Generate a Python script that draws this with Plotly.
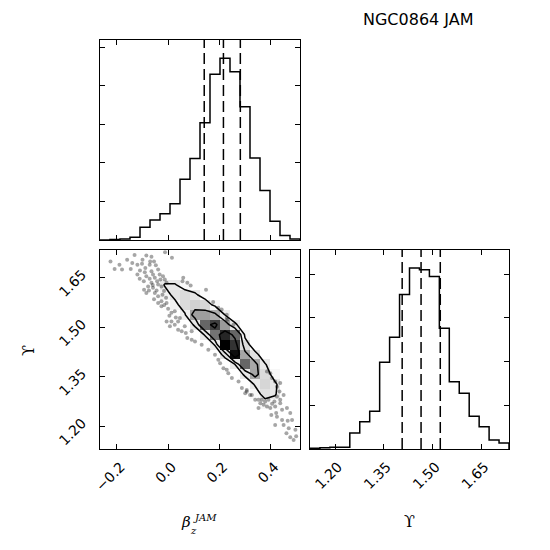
import numpy as np
import plotly.graph_objects as go

# ---------------- data ----------------
beta_range = [-0.266, 0.515]
ups_range_2d = [1.131, 1.7345]
ups_range_hist = [1.123, 1.734]

beta_counts = [0, 3, 5, 14, 66, 104, 136, 188, 315, 423, 609, 861, 944, 873, 692, 426, 257, 97, 23, 5]
ups_counts = [3, 6, 8, 8, 73, 125, 173, 397, 511, 707, 828, 820, 789, 553, 308, 255, 150, 102, 41, 27]

beta_quantiles = [0.141, 0.216, 0.282]
ups_quantiles = [1.406, 1.464, 1.523]

beta_ticks = [-0.2, 0.0, 0.2, 0.4]
ups_ticks = [1.20, 1.35, 1.50, 1.65]

# 2D histogram (rows listed from top = high Upsilon to bottom), values in % of max
hist2d_rows = [
    [0]*20,
    [0]*20,
    [0]*20,
    [0, 0, 0, 0, 0, 0, 9, 9, 2, 0, 0, 0, 0, 0, 0, 0, 0, 0, 0, 0],
    [0, 0, 0, 0, 0, 0, 4, 11, 14, 10, 2, 0, 0, 0, 0, 0, 0, 0, 0, 0],
    [0, 0, 0, 0, 0, 0, 0, 5, 14, 18, 16, 4, 0, 0, 0, 0, 0, 0, 0, 0],
    [0, 0, 0, 0, 0, 0, 0, 0, 7, 38, 38, 32, 7, 0, 0, 0, 0, 0, 0, 0],
    [0, 0, 0, 0, 0, 0, 0, 0, 0, 10, 60, 75, 40, 10, 0, 0, 0, 0, 0, 0],
    [0, 0, 0, 0, 0, 0, 0, 0, 0, 0, 9, 55, 85, 60, 5, 0, 0, 0, 0, 0],
    [0, 0, 0, 0, 0, 0, 0, 0, 0, 0, 0, 9, 100, 80, 14, 0, 0, 0, 0, 0],
    [0, 0, 0, 0, 0, 0, 0, 0, 0, 0, 0, 0, 12, 95, 35, 12, 0, 0, 0, 0],
    [0, 0, 0, 0, 0, 0, 0, 0, 0, 0, 0, 0, 0, 8, 60, 34, 9, 0, 0, 0],
    [0, 0, 0, 0, 0, 0, 0, 0, 0, 0, 0, 0, 0, 0, 10, 35, 14, 3, 0, 0],
    [0, 0, 0, 0, 0, 0, 0, 0, 0, 0, 0, 0, 0, 0, 0, 9, 16, 10, 0, 0],
    [0, 0, 0, 0, 0, 0, 0, 0, 0, 0, 0, 0, 0, 0, 0, 3, 12, 9, 0, 0],
    [0, 0, 0, 0, 0, 0, 0, 0, 0, 0, 0, 0, 0, 0, 0, 0, 3, 2, 0, 0],
    [0]*20,
    [0]*20,
    [0]*20,
    [0]*20,
]
contour_levels = [8, 28, 68]

scatter_beta = [
    -0.131, -0.085, -0.065, -0.055, -0.102, -0.072, -0.089, -0.146, -0.180, -0.209,
    -0.091, -0.065, -0.039, -0.059, -0.085, -0.072, -0.052, -0.033, -0.020, -0.013,
    -0.043, -0.065, -0.078, -0.094, -0.075, -0.059, -0.039, -0.026, -0.006, 0.059,
    0.075, 0.088, 0.056, -0.085, -0.052, -0.039, -0.022, -0.026, -0.006, -0.026,
    -0.039, 0.000, 0.013, 0.026, 0.013, -0.006, 0.007, 0.026, 0.039, 0.053,
    0.069, 0.075, 0.092, 0.046, -0.111, -0.225, -0.190, -0.160, -0.120, -0.100,
    -0.012, 0.015, 0.148, 0.176, 0.196, 0.209, 0.229, 0.231, 0.039, 0.065,
    0.092, 0.105, 0.131, 0.157, 0.183, 0.196, 0.216, 0.235, 0.249, 0.275,
    0.288, 0.307, 0.327, 0.353, 0.229, 0.255, 0.203, 0.229, 0.386, 0.399,
    0.405, 0.418, 0.425, 0.438, 0.435, 0.425, 0.438, 0.415, 0.406, 0.418,
    0.399, 0.386, 0.373, 0.360, 0.353, 0.379, 0.445, 0.464, 0.477, 0.484,
    0.467, 0.425, 0.445, 0.418, 0.471, 0.462, 0.497, 0.477, 0.307, 0.320,
    0.301, 0.340, 0.366, 0.438, 0.451, 0.392, 0.422, 0.403, 0.451, 0.490,
    0.500, -0.070, -0.048, -0.110, -0.030, -0.060, -0.016, -0.045, -0.095, -0.120,
    -0.008, -0.015, 0.005, -0.140, -0.055, 0.030,
]
scatter_ups = [
    1.719, 1.718, 1.714, 1.700, 1.693, 1.690, 1.680, 1.677, 1.675, 1.677,
    1.667, 1.670, 1.675, 1.660, 1.655, 1.647, 1.650, 1.660, 1.655, 1.645,
    1.640, 1.635, 1.624, 1.614, 1.612, 1.620, 1.630, 1.624, 1.635, 1.650,
    1.635, 1.627, 1.640, 1.604, 1.604, 1.594, 1.599, 1.579, 1.574, 1.564,
    1.574, 1.556, 1.544, 1.549, 1.518, 1.518, 1.503, 1.508, 1.493, 1.488,
    1.483, 1.468, 1.462, 1.528, 1.647, 1.700, 1.690, 1.705, 1.690, 1.705,
    1.728, 1.711, 1.614, 1.577, 1.559, 1.554, 1.538, 1.523, 1.518, 1.503,
    1.488, 1.457, 1.447, 1.432, 1.417, 1.402, 1.376, 1.361, 1.346, 1.336,
    1.316, 1.305, 1.295, 1.280, 1.528, 1.508, 1.391, 1.371, 1.366, 1.361,
    1.346, 1.336, 1.320, 1.331, 1.305, 1.290, 1.280, 1.275, 1.268, 1.260,
    1.255, 1.260, 1.265, 1.270, 1.255, 1.275, 1.250, 1.255, 1.240, 1.219,
    1.217, 1.229, 1.219, 1.204, 1.194, 1.179, 1.189, 1.167, 1.310, 1.295,
    1.300, 1.280, 1.280, 1.270, 1.295, 1.280, 1.240, 1.234, 1.204, 1.158,
    1.170, 1.700, 1.688, 1.672, 1.645, 1.628, 1.610, 1.612, 1.640, 1.660,
    1.590, 1.568, 1.535, 1.695, 1.585, 1.530,
]

title_text = "NGC0864 JAM"

# ---------------- helpers ----------------
W = H = 550
OFF = 8  # page body margin of the html wrapper


def px_x(p):
    return (p - OFF) / W


def px_y(p):
    return 1 - (p - OFF) / H


def step_xy(edges, counts):
    xs = [edges[0]] + list(edges[:-1]) + [edges[-1], edges[-1]]
    ys = [0] + list(counts) + [counts[-1], 0]
    return xs, ys


fig = go.Figure()

# top histogram (beta)
be = np.linspace(beta_range[0], beta_range[1], len(beta_counts) + 1)
xs, ys = step_xy(be, beta_counts)
fig.add_trace(go.Scatter(x=xs, y=ys, mode="lines", line=dict(color="black", width=1.5, shape="hv"),
                         xaxis="x", yaxis="y", showlegend=False, hoverinfo="skip"))

# right histogram (Upsilon)
ue = np.linspace(ups_range_hist[0], ups_range_hist[1], len(ups_counts) + 1)
xs, ys = step_xy(ue, ups_counts)
fig.add_trace(go.Scatter(x=xs, y=ys, mode="lines", line=dict(color="black", width=1.5, shape="hv"),
                         xaxis="x3", yaxis="y3", showlegend=False, hoverinfo="skip"))

# 2D panel
nx = len(hist2d_rows[0])
ny = len(hist2d_rows)
xe2 = np.linspace(beta_range[0], beta_range[1], nx + 1)
ye2 = np.linspace(ups_range_2d[0], ups_range_2d[1], ny + 1)
xc = 0.5 * (xe2[:-1] + xe2[1:])
yc = 0.5 * (ye2[:-1] + ye2[1:])
Z = np.array(hist2d_rows[::-1], dtype=float)
Zh = np.where(Z > 0, Z, np.nan)

fig.add_trace(go.Heatmap(x=xc, y=yc, z=Zh, colorscale=[[0, "white"], [1, "black"]],
                         zmin=0, zmax=100, showscale=False, xaxis="x2", yaxis="y2",
                         hoverinfo="skip"))
fig.add_trace(go.Scatter(x=scatter_beta, y=scatter_ups, mode="markers",
                         marker=dict(color="rgba(0,0,0,0.35)", size=4, line=dict(width=0)),
                         xaxis="x2", yaxis="y2", showlegend=False, hoverinfo="skip"))
for lv in contour_levels:
    fig.add_trace(go.Contour(x=xc, y=yc, z=Z, showscale=False,
                             contours=dict(start=lv, end=lv, size=1, coloring="none"),
                             line=dict(color="black", width=1.5, smoothing=0),
                             xaxis="x2", yaxis="y2", hoverinfo="skip"))

# quantile lines
shapes = []
for q in beta_quantiles:
    shapes.append(dict(type="line", xref="x", yref="y domain", x0=q, x1=q, y0=0, y1=1,
                       line=dict(color="black", width=1.5, dash="11px,5px")))
for q in ups_quantiles:
    shapes.append(dict(type="line", xref="x3", yref="y3 domain", x0=q, x1=q, y0=0, y1=1,
                       line=dict(color="black", width=1.5, dash="11px,5px")))

tickfont = dict(family="DejaVu Sans", size=14, color="black")
common = dict(showline=True, linecolor="black", linewidth=1.3, mirror="allticks",
              ticks="inside", ticklen=5, tickwidth=1, tickcolor="black",
              showgrid=False, zeroline=False, tickfont=tickfont, automargin=False)

dom_x_left = [px_x(100), px_x(300)]
dom_x_right = [px_x(310), px_x(509)]
dom_y_top = [px_y(240), px_y(40)]
dom_y_bot = [px_y(449), px_y(250)]

fig.update_layout(
    width=W, height=H, margin=dict(l=0, r=0, t=0, b=0, autoexpand=False),
    paper_bgcolor="white", plot_bgcolor="white", showlegend=False,
    shapes=shapes,
    xaxis=dict(domain=dom_x_left, anchor="y", range=beta_range, tickvals=beta_ticks,
               showticklabels=False, **common),
    yaxis=dict(domain=dom_y_top, anchor="x", range=[0, 1.1 * max(beta_counts)], dtick=200,
               showticklabels=False, **common),
    xaxis2=dict(domain=dom_x_left, anchor="y2", range=beta_range, tickvals=beta_ticks,
                tickformat=".1f", tickangle=-45, ticklabelshift=4, ticklabelstandoff=3, **common),
    yaxis2=dict(domain=dom_y_bot, anchor="x2", range=ups_range_2d, tickvals=ups_ticks,
                tickformat=".2f", tickangle=-45, ticklabelshift=-5, ticklabelstandoff=14, **common),
    xaxis3=dict(domain=dom_x_right, anchor="y3", range=ups_range_hist, tickvals=ups_ticks,
                tickformat=".2f", tickangle=-45, ticklabelshift=3, ticklabelstandoff=3, **common),
    yaxis3=dict(domain=dom_y_bot, anchor="x3", range=[0, 1.1 * max(ups_counts)], dtick=200,
                showticklabels=False, **common),
)

serif = "DejaVu Serif"
ann = [
    dict(text=title_text, x=px_x(418), y=1.0, yanchor="top",
         font=dict(family="DejaVu Sans", size=16, color="black")),
    dict(text="<i>β</i>", x=px_x(186), y=px_y(522), font=dict(family=serif, size=15, color="black")),
    dict(text="<i>z</i>", x=px_x(193), y=px_y(530), font=dict(family=serif, size=10, color="black")),
    dict(text="<i>JAM</i>", x=px_x(205), y=px_y(517), font=dict(family=serif, size=10, color="black")),
    dict(text="ϒ", x=px_x(409), y=px_y(521), font=dict(family=serif, size=16, color="black")),
    dict(text="ϒ", x=px_x(28), y=px_y(351), textangle=-90, font=dict(family=serif, size=16, color="black")),
]
for a in ann:
    a.setdefault("yanchor", "middle")
    a.update(xref="paper", yref="paper", showarrow=False, xanchor="center")
fig.update_layout(annotations=ann)

fig.write_html("out.html")
